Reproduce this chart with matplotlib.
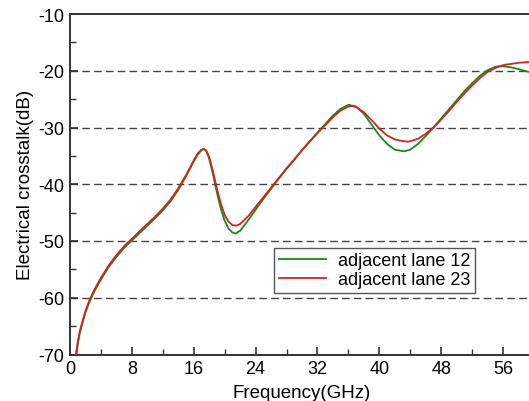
import matplotlib
matplotlib.use("Agg")
import matplotlib.pyplot as plt
from matplotlib.ticker import MultipleLocator

plt.rcParams['font.family'] = ['Liberation Sans', 'DejaVu Sans']
plt.rcParams['axes.unicode_minus'] = False

# lane 12 (green)
freq_12 = [0.85, 1.0, 1.25, 1.5, 2.0, 2.5, 3.0, 3.5, 4.0, 5.0, 6.0, 7.0, 8.0, 9.0,
           10.0, 11.0, 12.0, 13.0, 14.0, 15.0, 16.0, 16.5, 17.0, 17.3, 17.6, 18.0,
           18.5, 19.0, 19.5, 20.0, 20.5, 21.0, 21.4, 22.0, 23.0, 24.0, 25.0, 26.0,
           27.0, 28.0, 29.0, 30.0, 31.0, 32.0, 33.0, 34.0, 35.0, 36.0, 37.0, 38.0,
           39.0, 40.0, 41.0, 42.0, 43.2, 44.0, 45.0, 46.0, 47.0, 48.0, 49.0, 50.0,
           51.0, 52.0, 53.0, 54.0, 55.0, 55.5, 56.0, 57.0, 58.0, 59.0, 60.0]
xtalk_12 = [-70.0, -68.2, -66.3, -65.0, -62.6, -60.8, -59.3, -58.0, -56.8, -54.6, -52.8,
            -51.2, -49.9, -48.6, -47.3, -46.0, -44.6, -43.0, -41.0, -38.6, -36.0, -34.8,
            -34.0, -33.8, -34.1, -35.5, -38.3, -41.5, -44.3, -46.4, -47.8, -48.5, -48.7,
            -48.2, -46.4, -44.5, -42.6, -40.8, -39.0, -37.3, -35.7, -34.0, -32.4, -30.9,
            -29.4, -27.9, -26.7, -26.0, -26.3, -27.6, -29.5, -31.4, -32.9, -33.9, -34.2,
            -33.9, -32.9, -31.5, -30.0, -28.4, -26.8, -25.2, -23.6, -22.2, -20.9, -19.9,
            -19.3, -19.2, -19.2, -19.4, -19.7, -20.1, -20.4]

# lane 23 (red)
freq_23 = [0.75, 1.0, 1.25, 1.5, 2.0, 2.5, 3.0, 3.5, 4.0, 5.0, 6.0, 7.0, 8.0, 9.0,
           10.0, 11.0, 12.0, 13.0, 14.0, 15.0, 16.0, 16.5, 17.0, 17.3, 17.6, 18.0,
           18.5, 19.0, 19.5, 20.0, 20.5, 21.0, 21.5, 22.0, 23.0, 24.0, 25.0, 26.0,
           27.0, 28.0, 29.0, 30.0, 31.0, 32.0, 33.0, 34.0, 35.0, 36.0, 36.5, 37.0,
           38.0, 39.0, 40.0, 41.0, 42.0, 43.0, 43.8, 45.0, 46.0, 47.0, 48.0, 49.0,
           50.0, 51.0, 52.0, 53.0, 54.0, 55.0, 56.0, 57.0, 58.0, 59.0, 60.0]
xtalk_23 = [-70.0, -67.8, -66.0, -64.7, -62.3, -60.5, -59.0, -57.7, -56.5, -54.3, -52.5,
            -50.9, -49.6, -48.3, -47.0, -45.7, -44.3, -42.7, -40.7, -38.4, -35.8, -34.6,
            -33.9, -33.8, -34.0, -35.2, -37.8, -40.8, -43.4, -45.4, -46.6, -47.2, -47.3,
            -47.0, -45.7, -44.0, -42.3, -40.6, -38.9, -37.2, -35.6, -34.0, -32.5, -31.0,
            -29.6, -28.2, -27.0, -26.3, -26.2, -26.4, -27.3, -28.7, -30.2, -31.4, -32.1,
            -32.4, -32.5, -32.0, -31.1, -30.0, -28.6, -27.1, -25.5, -24.0, -22.6, -21.3,
            -20.2, -19.5, -19.0, -18.8, -18.6, -18.5, -18.4]

labels = ['adjacent lane 12', 'adjacent lane 23']

fig = plt.figure(figsize=(5.29, 4.02), dpi=100)
# the right side of the plot runs past the picture edge, as in the reference
ax = fig.add_axes([70 / 529, 1 - 355.5 / 402, 464 / 529, 340.5 / 402])

for y in [-20, -30, -40, -50, -60]:
    ax.axhline(y, color='#444444', lw=1.0, ls=(0, (5.5, 3)), zorder=1)

ax.plot(freq_12, xtalk_12, color='#148c14', lw=1.3, label=labels[0], zorder=3)
ax.plot(freq_23, xtalk_23, color='#d42222', lw=1.3, label=labels[1], zorder=4)

ax.set_xlim(0, 60)
ax.set_ylim(-70, -10)
ax.xaxis.set_major_locator(MultipleLocator(8))
ax.xaxis.set_minor_locator(MultipleLocator(4))
ax.yaxis.set_major_locator(MultipleLocator(10))
ax.yaxis.set_minor_locator(MultipleLocator(5))
ax.tick_params(which='both', direction='in', labelsize=13, color='#333333')
ax.tick_params(which='major', length=6, width=1.2, pad=4)
ax.tick_params(which='minor', length=4, width=1.0)
ax.tick_params(axis='y', which='both', right=False)
ax.tick_params(axis='x', which='both', top=False)
for s in ax.spines.values():
    s.set_linewidth(1.4)
    s.set_color('#333333')

ax.set_xlabel('Frequency(GHz)', fontsize=13.5, labelpad=5)
ax.set_ylabel('Electrical crosstalk(dB)', fontsize=13.5, labelpad=3)

leg = ax.legend(loc='upper left', bbox_to_anchor=(0.44, 0.313), borderaxespad=0,
                fontsize=13, fancybox=False, handlelength=2.6, handletextpad=0.7,
                borderpad=0.25, labelspacing=0.1, edgecolor='#555555', framealpha=1)
leg.get_frame().set_linewidth(1.0)

fig.savefig('out.png', dpi=100)
